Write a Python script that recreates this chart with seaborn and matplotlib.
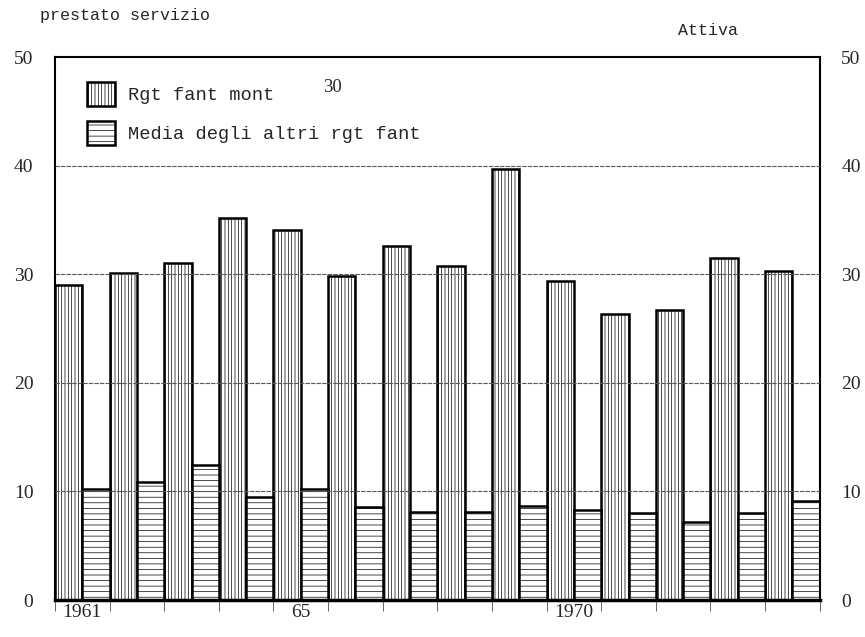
import numpy as np
import pandas as pd
import matplotlib
matplotlib.use('Agg')
import matplotlib.pyplot as plt
import seaborn as sns

# values
years = [1961, 1962, 1963, 1964, 1965, 1966, 1967, 1968, 1969, 1970, 1971, 1972, 1973, 1974]
rgt_fant_mont = [29.0, 30.1, 31.0, 35.2, 34.1, 29.8, 32.6, 30.8, 39.7, 29.4, 26.3, 26.7, 31.5, 30.3]
media_altri = [10.2, 10.9, 12.4, 9.5, 10.2, 8.6, 8.1, 8.1, 8.7, 8.3, 8.0, 7.2, 8.0, 9.1]
series_names = ["Rgt fant mont", "Media degli altri rgt fant"]
year_labels = {1961: "1961", 1965: "65", 1970: "1970"}
y_ticks = [0, 10, 20, 30, 40, 50]

df = pd.DataFrame({
    "anno": years * 2,
    "valore": rgt_fant_mont + media_altri,
    "serie": [series_names[0]] * len(years) + [series_names[1]] * len(years),
})

sns.set_style("white")
plt.rcParams['font.family'] = ['Liberation Serif', 'DejaVu Serif']
plt.rcParams['hatch.linewidth'] = 0.5

fig = plt.figure(figsize=(8.65, 6.37), dpi=100)
ax = fig.add_axes([0.0636, 0.058, 0.884, 0.8525])

sns.barplot(data=df, x="anno", y="valore", hue="serie", hue_order=series_names,
            width=1.0, dodge=True, gap=0, errorbar=None, ax=ax, legend=False)

hatches = ['|||||', '---']
for cont, h in zip(ax.containers, hatches):
    for bar in cont:
        bar.set_facecolor('white')
        bar.set_edgecolor('black')
        bar.set_linewidth(1.8)
        bar.set_hatch(h)
        if hasattr(bar, 'set_hatchcolor'):
            bar.set_hatchcolor('0.4')

ax.set_xlim(-0.5, len(years) - 0.5)
ax.set_ylim(0, 50)
ax.set_xlabel("")
ax.set_ylabel("")

# grid lines over the bars
for v in y_ticks[1:-1]:
    ax.axhline(v, color='0.35', lw=0.8, ls=(0, (4, 1)), zorder=5)

# y labels on both sides, no tick marks
ax.set_yticks(y_ticks)
ax.set_yticklabels([str(v) for v in y_ticks])
ax.tick_params(axis='y', left=False, right=False, labelleft=True, labelright=True,
               labelsize=14, pad=12)

# x: labels at some years, small ticks at group boundaries
pos = [years.index(y) for y in year_labels]
ax.set_xticks(pos)
ax.set_xticklabels(list(year_labels.values()))
ax.set_xticks(np.arange(-0.5, len(years)), minor=True)
ax.tick_params(axis='x', which='major', length=0, labelsize=14, pad=3)
ax.tick_params(axis='x', which='minor', length=8, width=0.6, direction='out', color='0.3', bottom=True)

for s in ax.spines.values():
    s.set_visible(True)
    s.set_color('black')
    s.set_linewidth(1.5)
ax.spines['bottom'].set_linewidth(2.5)

handles = [c[0] for c in ax.containers]
leg = ax.legend(handles, series_names, loc='upper left', bbox_to_anchor=(0.02, 0.985),
                frameon=False, handlelength=1.5, handleheight=1.6, handletextpad=0.7,
                labelspacing=0.8, prop={'family': 'Liberation Mono', 'size': 13.5})

fig.text(0.046, 0.975, "prestato servizio", family='Liberation Mono', fontsize=12,
         ha='left', va='center')
fig.text(0.818, 0.952, "Attiva", family='Liberation Mono', fontsize=12,
         ha='center', va='center')
fig.text(0.384, 0.862, "30", fontsize=13.5, ha='center', va='center')

fig.savefig("out.png", dpi=100)
